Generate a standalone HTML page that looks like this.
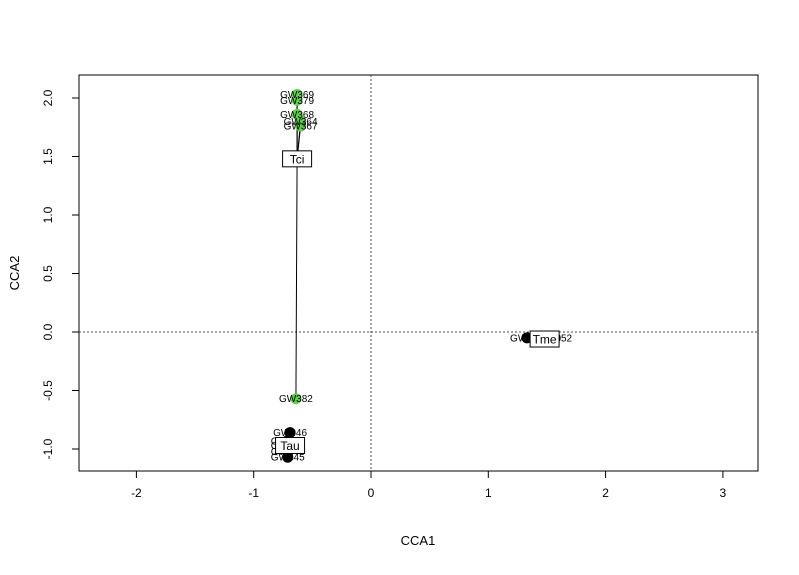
<!DOCTYPE html>
<html><head><meta charset="utf-8"><style>
body{margin:0;background:#fff;font-family:"Liberation Sans",sans-serif}
svg text{font-family:"Liberation Sans",sans-serif}
</style></head><body>
<svg id="c" width="799" height="570"></svg>
<script>
const xTicks=[-2,-1,0,1,2,3];
const yTicks=[-1.0,-0.5,0.0,0.5,1.0,1.5,2.0];
const ptNames=["GW369","GW379","GW368","GW364","GW367","GW382","GW346","GW341","GW342","GW343","GW345","GW351","GW352"];
const ptX=[-0.63,-0.63,-0.63,-0.60,-0.60,-0.64,-0.69,-0.71,-0.71,-0.71,-0.71,1.33,1.57];
const ptY=[2.03,1.98,1.86,1.80,1.76,-0.57,-0.86,-0.93,-0.97,-1.02,-1.07,-0.05,-0.05];
const ptGroup=[0,0,0,0,0,0,1,1,1,1,1,2,2];
const groupNames=["Tci","Tau","Tme"];
const groupX=[-0.63,-0.69,1.48];
const groupY=[1.48,-0.97,-0.06];
const groupColors=["#61d04f","#000000","#000000"];
const X=v=>371+v*117.3, Y=v=>332-v*117;
const s=document.getElementById('c');const NS="http://www.w3.org/2000/svg";
function el(t,a,p){const e=document.createElementNS(NS,t);for(const k in a)e.setAttribute(k,a[k]);(p||s).appendChild(e);return e;}
let e=el('rect',{x:79,y:75,width:679,height:396,fill:'none',stroke:'#000'});

e=el('line',{x1:79,x2:758,y1:Y(0),y2:Y(0),stroke:'#444','stroke-dasharray':'2,2'});

e=el('line',{x1:X(0),x2:X(0),y1:75,y2:471,stroke:'#444','stroke-dasharray':'2,2'});

xTicks.forEach(v=>{el('line',{x1:X(v),x2:X(v),y1:471,y2:478,stroke:'#000'});
 e=el('text',{x:X(v),y:497,'font-size':12,'text-anchor':'middle'});e.textContent=v;
 });
yTicks.forEach(v=>{el('line',{x1:72,x2:79,y1:Y(v),y2:Y(v),stroke:'#000'});
 e=el('text',{x:0,y:0,'font-size':12,'text-anchor':'middle',transform:`translate(52,${Y(v)}) rotate(-90)`});e.textContent=v.toFixed(1);
 });
e=el('text',{x:418,y:545,'font-size':13,'text-anchor':'middle'});e.textContent='CCA1';

e=el('text',{x:0,y:0,'font-size':13,'text-anchor':'middle',transform:'translate(19,273) rotate(-90)'});e.textContent='CCA2';

ptNames.forEach((n,i)=>{const g=ptGroup[i];
 e=el('line',{x1:X(ptX[i]),y1:Y(ptY[i]),x2:X(groupX[g]),y2:Y(groupY[g]),stroke:'#000'});
 });
ptNames.forEach((n,i)=>{const g=ptGroup[i];
 e=el('circle',{cx:X(ptX[i]),cy:Y(ptY[i]),r:5.5,fill:groupColors[g]});
 });
ptNames.forEach((n,i)=>{
 e=el('text',{x:X(ptX[i]),y:Y(ptY[i])+3.5,'font-size':10,'text-anchor':'middle'});e.textContent=n;
 });
groupNames.forEach((n,i)=>{const w=n.length*7+8;
 e=el('rect',{x:X(groupX[i])-w/2,y:Y(groupY[i])-8,width:w,height:16,fill:'#fff',stroke:'#000'});
 
 e=el('text',{x:X(groupX[i]),y:Y(groupY[i])+4.5,'font-size':12,'text-anchor':'middle'});e.textContent=n;
 });
</script>
</body></html>
